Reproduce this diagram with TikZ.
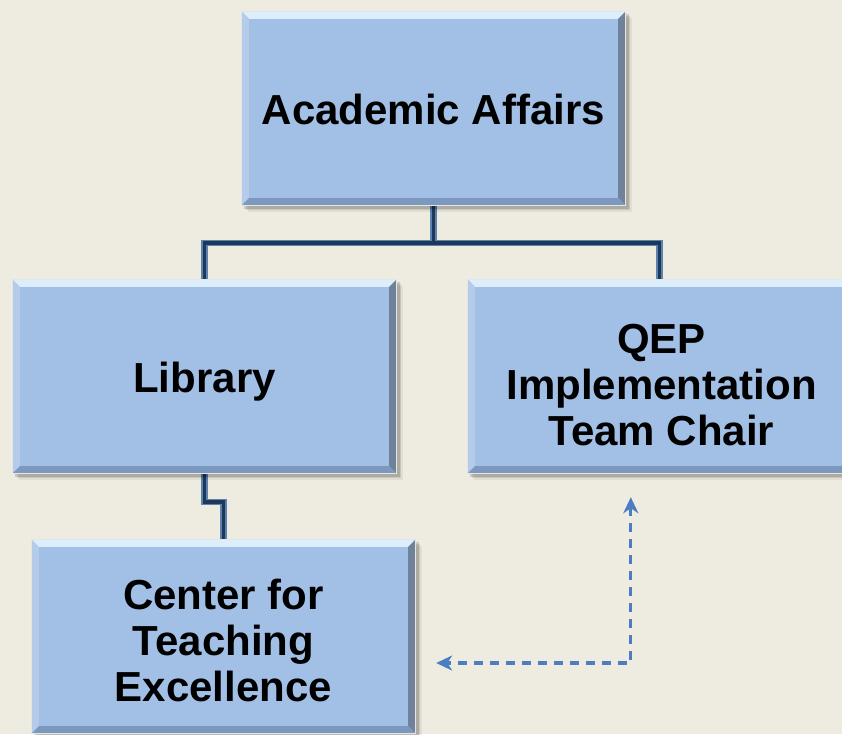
\documentclass[tikz,border=0pt]{standalone}
\usepackage{fontspec}
\setmainfont{Liberation Sans}
\usetikzlibrary{calc,arrows.meta,backgrounds}
\definecolor{bg}{HTML}{EEEBE0}
\definecolor{boxfill}{HTML}{A2C0E5}
\definecolor{bevtop}{HTML}{DCEDFC}
\definecolor{bevleft}{HTML}{B4CCEA}
\definecolor{bevright}{HTML}{6F829A}
\definecolor{bevbot}{HTML}{7C98BE}
\definecolor{linkdark}{HTML}{1E3859}
\definecolor{linklight}{HTML}{5C82AE}
\definecolor{dashblue}{HTML}{4A7EC1}
\tikzset{
  orgbox/.style={draw=none, minimum width=383pt, minimum height=193pt, inner sep=0pt},
  orgtext/.style={inner sep=0pt, align=center, text=black,
    font=\bfseries\fontsize{42}{46}\selectfont},
  linkouter/.style={draw=linklight, line width=6.5pt},
  linkinner/.style={draw=linkdark, line width=3.8pt},
  relarrow/.style={draw=dashblue, line width=3.2pt, dash pattern=on 9pt off 7pt,
    {Stealth[length=16pt,width=15pt,inset=5pt]}-{Stealth[length=16pt,width=15pt,inset=5pt]}}
}
\newcommand{\bevel}[1]{%
  \foreach \o/\a in {7/0.06,5/0.10,3.5/0.14}{
    \fill[black,opacity=\a] ($(#1.north west)+(\o-1,\o-1)$) rectangle ($(#1.south east)+(\o,\o)$);
  }
  \fill[boxfill] (#1.north west) rectangle (#1.south east);
  \fill[bevtop] (#1.north west) -- (#1.north east) -- ($(#1.north east)+(-7,7)$) -- ($(#1.north west)+(7,7)$) -- cycle;
  \fill[bevleft] (#1.north west) -- ($(#1.north west)+(7,7)$) -- ($(#1.south west)+(7,-7)$) -- (#1.south west) -- cycle;
  \fill[bevright] (#1.north east) -- (#1.south east) -- ($(#1.south east)+(-7,-7)$) -- ($(#1.north east)+(-7,7)$) -- cycle;
  \fill[bevbot] (#1.south west) -- (#1.south east) -- ($(#1.south east)+(-7,-7)$) -- ($(#1.south west)+(7,-7)$) -- cycle;
  \draw[white!80!gray,line width=0.8pt] (#1.north west) rectangle (#1.south east);
}
\begin{document}
\begin{tikzpicture}[x=1pt,y=-1pt]
\useasboundingbox (0,0) rectangle (842,734);
\clip (0,0) rectangle (842,734);
\node[orgbox] (aa) at (433.5,108.5) {};
\node[orgbox] (lib) at (204.5,376.5) {};
\node[orgbox] (qep) at (659.5,376.5) {};
\node[orgbox] (ctr) at (223.5,636.5) {};
\node[orgtext] (aaT) at ($(aa.center)+(0,1)$) {Academic Affairs};
\node[orgtext] (libT) at ($(lib.center)+(0,5)$) {Library};
\node[orgtext] (qepT) at ($(qep.center)+(2,9)$) {QEP\\Implementation\\Team Chair};
\node[orgtext] (ctrT) at ($(ctr.center)+(0,4)$) {Center for\\Teaching\\Excellence};
\begin{pgfonlayer}{background}
\fill[bg] (0,0) rectangle (842,734);
\coordinate (bus) at ($(aa.south)+(0,38)$);
\coordinate (step) at ($(lib.south)+(0,29)$);
\foreach \st in {linkouter,linkinner}{
  \draw[\st] (aa.south) -- (bus);
  \draw[\st] (lib.north) |- (bus) -| (qep.north);
  \draw[\st] (lib.south) -- (step) -| (ctr.north);
}
\bevel{aa}\bevel{lib}\bevel{qep}\bevel{ctr}
\end{pgfonlayer}
\coordinate (tA) at ($(qep.south west)+(163,24)$);
\coordinate (tB) at ($(ctr.east)+(21,26.5)$);
\draw[relarrow] (tA) |- (tB);
\end{tikzpicture}
\end{document}
